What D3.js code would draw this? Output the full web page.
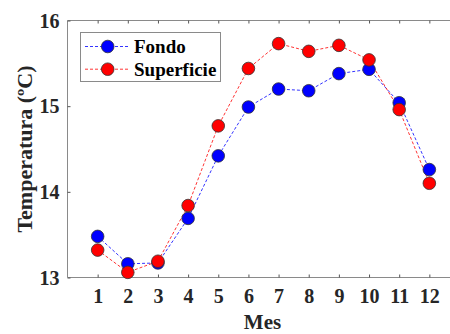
<!DOCTYPE html>
<html><head><meta charset="utf-8">
<script src="https://cdn.jsdelivr.net/npm/d3@7"></script>
<style>body{margin:0;background:#fff}svg{display:block}</style>
</head><body>
<script>
const months = [1,2,3,4,5,6,7,8,9,10,11,12];
const fondo = [13.48,13.16,13.17,13.69,14.42,14.99,15.20,15.18,15.38,15.43,15.04,14.26];
const superficie = [13.32,13.06,13.19,13.84,14.77,15.44,15.73,15.64,15.71,15.54,14.96,14.10];
const yTicks = [13,14,15,16];
const seriesNames = ["Fondo","Superficie"];
const seriesColors = ["#0000ff","#ff0000"];

const W=450,H=334;
const svg=d3.select("body").append("svg").attr("width",W).attr("height",H);
const x=d3.scaleLinear().domain([0,13]).range([67.5,459.5]);
const y=d3.scaleLinear().domain([13,16]).range([277.5,20.5]);
const font="'Liberation Serif','Times New Roman',serif";

// axes box
const axCol="#8a8a8a";
svg.append("line").attr("x1",x(0)).attr("x2",x(13)).attr("y1",y(13)).attr("y2",y(13)).attr("stroke",axCol);
svg.append("line").attr("x1",x(0)).attr("x2",x(13)).attr("y1",y(16)).attr("y2",y(16)).attr("stroke",axCol);
svg.append("line").attr("x1",x(0)).attr("x2",x(0)).attr("y1",y(13)).attr("y2",y(16)).attr("stroke",axCol);

// bottom & top ticks
const xb=d3.axisBottom(x).tickValues(months).tickSize(-3).tickPadding(12).tickFormat(d3.format("d"));
const gb=svg.append("g").attr("transform",`translate(0,${y(13)})`).call(xb);
const gt=svg.append("g").attr("transform",`translate(0,${y(16)})`).call(d3.axisTop(x).tickValues(months).tickSize(-3).tickFormat(""));
const yl=d3.axisLeft(y).tickValues(yTicks).tickSize(-3).tickPadding(8).tickFormat(d3.format("d"));
const gl=svg.append("g").attr("transform",`translate(${x(0)},0)`).call(yl);
[gb,gt,gl].forEach(g=>{g.select(".domain").remove();g.selectAll(".tick line").attr("stroke","#555");
 g.selectAll("text").attr("font-family",font).attr("font-weight","bold").attr("font-size","20px").attr("fill","#262626");});
gb.selectAll("text").attr("dy","0.71em").attr("y",11);
gl.selectAll("text").attr("x",-8).attr("dy","0.33em");

// labels
svg.append("text").attr("x",x(6.5)-1).attr("y",329).attr("text-anchor","middle").attr("font-family",font).attr("font-weight","bold").attr("font-size","21px").attr("fill","#262626").text("Mes");
svg.append("text").attr("transform",`translate(32,${(y(13)+y(16))/2}) rotate(-90)`).attr("text-anchor","middle").attr("font-family",font).attr("font-weight","bold").attr("font-size","22px").attr("fill","#262626").text("Temperatura (ºC)");

// series
const data=[fondo,superficie];
const line=d3.line().x((d,i)=>x(months[i])).y(d=>y(d));
data.forEach((s,k)=>{
  svg.append("path").attr("d",line(s)).attr("fill","none").attr("stroke",seriesColors[k]).attr("stroke-width",0.8).attr("stroke-dasharray","3,2");
});
data.forEach((s,k)=>{
  svg.append("g").selectAll("circle").data(s).join("circle").attr("cx",(d,i)=>x(months[i])).attr("cy",d=>y(d)).attr("r",6.3)
   .attr("fill",seriesColors[k]).attr("stroke","#333").attr("stroke-width",0.8);
});

// legend
const lg=svg.append("g");
lg.append("rect").attr("x",80.5).attr("y",32.5).attr("width",140).attr("height",49).attr("fill","#fff").attr("stroke",axCol);
seriesNames.forEach((n,k)=>{
  const cy=46.5+k*22.7;
  lg.append("line").attr("x1",85).attr("x2",130).attr("y1",cy).attr("y2",cy).attr("stroke",seriesColors[k]).attr("stroke-width",0.8).attr("stroke-dasharray","3,2");
  lg.append("circle").attr("cx",107.7).attr("cy",cy).attr("r",6.3).attr("fill",seriesColors[k]).attr("stroke","#333").attr("stroke-width",0.8);
  lg.append("text").attr("x",134).attr("y",cy).attr("dy","0.35em").attr("font-family",font).attr("font-weight","bold").attr("font-size","19px").attr("fill","#000").text(n);
});
</script>
</body></html>
